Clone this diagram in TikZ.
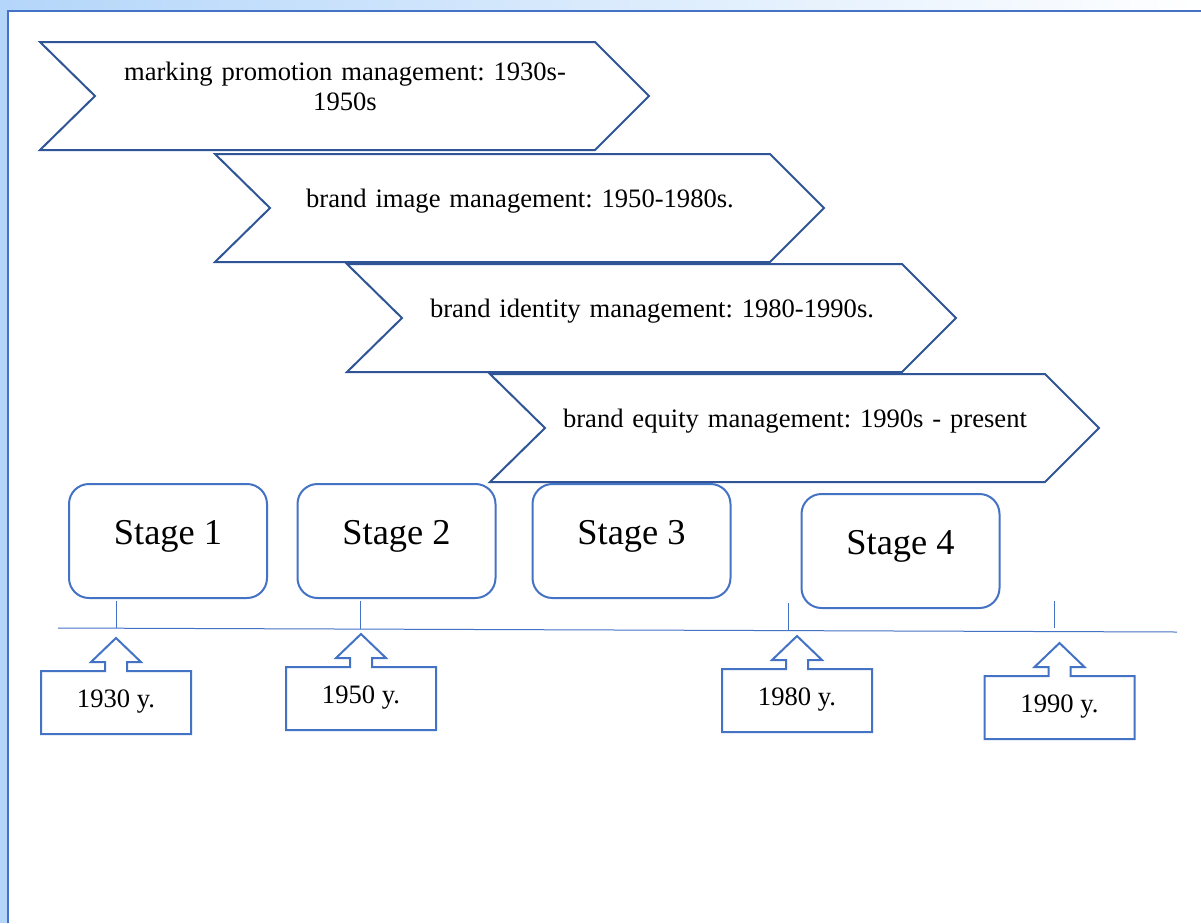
\documentclass[tikz,border=0pt]{standalone}
\usepackage{fontspec}
\setmainfont{Liberation Serif}
\frenchspacing
\definecolor{chevblue}{HTML}{2F5597}
\definecolor{boxblue}{HTML}{4472C4}
\definecolor{bandblue}{RGB}{180,214,250}

\begin{document}
\begin{tikzpicture}[x=0.5pt, y=-0.5pt,
	chevron/.style={draw=chevblue, line width=1pt, fill=white},
	phasetext/.style={anchor=base, text width=250pt, align=center, inner sep=0pt, font=\fontsize{13.3}{15}\selectfont},
	stagebox/.style={draw=boxblue, line width=1pt, fill=white, rounded corners=10pt, minimum width=99pt, minimum height=57pt, text height=12pt, text depth=9pt, font=\fontsize{18.2}{22}\selectfont},
	callout/.style={draw=boxblue, line width=1pt, fill=white},
	yeartext/.style={anchor=base, inner sep=0pt, font=\fontsize{13.3}{15}\selectfont},
	tline/.style={draw=boxblue, line width=0.5pt}]
	\useasboundingbox (0,0) rectangle (1201,923);
	% page frame
	\fill[white] (0,0) rectangle (1201,923);
	\shade[left color=bandblue, right color=white] (0,0) rectangle (1201,10);
	\fill[bandblue] (0,0) rectangle (7,923);
	\draw[boxblue, line width=1pt] (8,923) -- (8,11) -- (1201,11);
	% phases
	\foreach \L/\T/\B/\txt [count=\i] in {40/42/38/{marking promotion management: 1930s-\\1950s},
		215/154/53/{brand image management: 1950-1980s.},
		347/264/53/{brand identity management: 1980-1990s.},
		490/374/53/{brand equity management: 1990s - present}} {
		\draw[chevron] (\L,\T) -- (\L+555,\T) -- (\L+609,\T+54) -- (\L+555,\T+108) -- (\L,\T+108) -- (\L+55,\T+54) -- cycle;
		\node[phasetext] (phase\i) at (\L+305,\T+\B) {\txt};
	}
	% stages
	\foreach \sx/\sy [count=\i] in {168/541, 396.5/541, 631.5/541, 900.5/551}
		\node[stagebox] (stage\i) at (\sx,\sy) {Stage \i};
	% time line
	\draw[tline] (58,628) -- (1177,632);
	\foreach \tx/\ta/\tb in {116/601/628, 360/601/629, 788/603/631, 1054/601/628}
		\draw[tline] (\tx,\ta) -- (\tx,\tb);
	% years
	\foreach \cx/\top/\yr in {116/671/1930, 361/667/1950, 797/669/1980, 1059.5/676/1990} {
		\draw[callout] (\cx-75,\top) -- (\cx-11,\top) -- (\cx-11,\top-9) -- (\cx-25,\top-9) -- (\cx,\top-33)
			-- (\cx+25,\top-9) -- (\cx+11,\top-9) -- (\cx+11,\top) -- (\cx+75,\top) -- (\cx+75,\top+63) -- (\cx-75,\top+63) -- cycle;
		\node[yeartext] (year\yr) at (\cx,\top+36) {\yr~y.};
	}
\end{tikzpicture}
\end{document}
